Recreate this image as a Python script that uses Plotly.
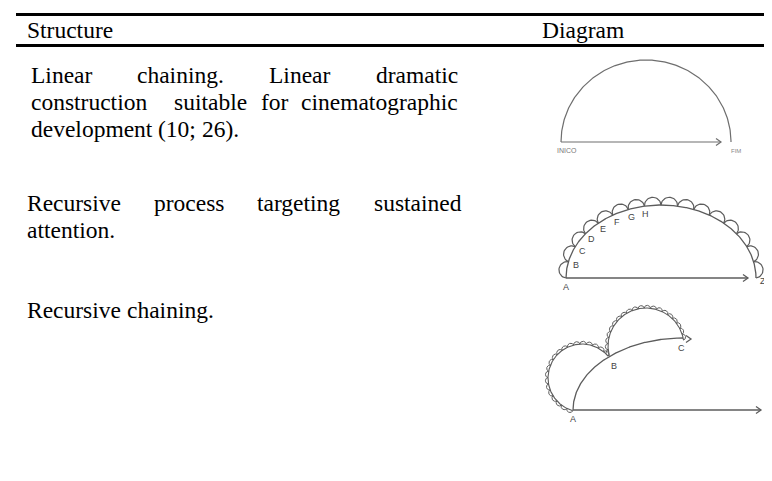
import re
import numpy as np
import plotly.graph_objects as go

# ---------------- data ----------------
headers = ["Structure", "Diagram"]
row1_lines = ["Linear chaining. Linear dramatic",
              "construction  suitable for cinematographic",
              "development (10; 26)."]
row2_lines = ["Recursive process targeting sustained",
              "attention."]
row3_lines = ["Recursive chaining."]
d1_labels = ["INICO", "FIM"]
d2_labels = ["A", "B", "C", "D", "E", "F", "G", "H"]
d2_end_label = "Z"
d3_labels = ["A", "B", "C", "Z"]
d2_loop_count = 16
d3_bead_counts = [20, 20]

# ---------------- helpers ----------------
W, H = 772, 481
FONT = "Liberation Serif"
FS = 23.5
TW = {' ': 250, 'a': 444, 'b': 500, 'c': 444, 'd': 500, 'e': 444, 'f': 333, 'g': 500,
      'h': 500, 'i': 278, 'j': 278, 'k': 500, 'l': 278, 'm': 778, 'n': 500, 'o': 500,
      'p': 500, 'q': 500, 'r': 333, 's': 389, 't': 278, 'u': 500, 'v': 500, 'w': 722,
      'x': 500, 'y': 500, 'z': 444, 'A': 722, 'B': 667, 'C': 667, 'D': 722, 'E': 611,
      'F': 556, 'G': 722, 'H': 722, 'I': 333, 'L': 611, 'R': 667, 'S': 556, '.': 250,
      ',': 250, ';': 278, '(': 333, ')': 333}
for d in "0123456789":
    TW[d] = 500


def tw(s, fs=FS):
    return sum(TW.get(c, 500) for c in s) / 1000.0 * fs


annotations = []


def word(x, baseline, text, fs=FS, color="black", family=FONT, anchor="left"):
    annotations.append(dict(x=x, y=baseline - 0.34 * fs, xref="x", yref="y", text=text,
                            showarrow=False, xanchor=anchor, yanchor="middle",
                            borderpad=0, font=dict(family=family, size=fs, color=color)))


def paragraph(lines, x0, x1, base0, lead):
    for i, line in enumerate(lines):
        b = base0 + i * lead
        parts = re.split(r"( +)", line)
        words = parts[0::2]
        gaps = [len(g) for g in parts[1::2]]
        last = i == len(lines) - 1
        if last or not gaps:
            unit = TW[' '] / 1000.0 * FS
        else:
            unit = (x1 - x0 - sum(tw(w) for w in words)) / sum(gaps)
        x = x0
        for j, w in enumerate(words):
            word(x, b, w)
            x += tw(w)
            if j < len(gaps):
                x += unit * gaps[j]


fig = go.Figure()
LC = "#5c5c5c"


def line(xs, ys, color=LC, width=1.3):
    fig.add_trace(go.Scatter(x=list(xs), y=list(ys), mode="lines",
                             line=dict(color=color, width=width),
                             hoverinfo="skip", showlegend=False))


def arrow_head(x, y, dx, dy, size=6, color=LC, width=1.3):
    n = np.hypot(dx, dy)
    ux, uy = dx / n, dy / n
    px, py = -uy, ux
    line([x - size * ux + 0.7 * size * px, x, x - size * ux - 0.7 * size * px],
         [y - size * uy + 0.7 * size * py, y, y - size * uy - 0.7 * size * py], color, width)


def ell(cx, cy, rx, ry, t0, t1, n=200):
    t = np.linspace(t0, t1, n)
    return cx + rx * np.cos(t), cy + ry * np.sin(t)


def resample(xs, ys, k):
    seg = np.hypot(np.diff(xs), np.diff(ys))
    cum = np.concatenate([[0], np.cumsum(seg)])
    s = np.linspace(0, cum[-1], k + 1)
    return np.interp(s, cum, xs), np.interp(s, cum, ys)


def loops(px, py, cx, cy, scale=1.0, color=LC, width=1.2):
    for i in range(len(px) - 1):
        x0, y0, x1, y1 = px[i], py[i], px[i + 1], py[i + 1]
        mx, my = (x0 + x1) / 2, (y0 + y1) / 2
        r = np.hypot(x1 - x0, y1 - y0) / 2
        ux, uy = (x0 - mx) / r, (y0 - my) / r
        nx, ny = -uy, ux
        if (mx - cx) * nx + (my - cy) * ny < 0:
            nx, ny = -nx, -ny
        s = np.linspace(0, np.pi, 24)
        line(mx + r * np.cos(s) * ux + scale * r * np.sin(s) * nx,
             my + r * np.cos(s) * uy + scale * r * np.sin(s) * ny, color, width)


# ---------------- table rules & header ----------------
shapes = [dict(type="line", xref="x", yref="y", x0=8, x1=772, y0=6.5, y1=6.5,
               line=dict(color="black", width=3)),
          dict(type="line", xref="x", yref="y", x0=8, x1=772, y0=37.5, y1=37.5,
               line=dict(color="black", width=3))]
word(18, 30, headers[0])
word(533, 30, headers[1])

# ---------------- text column ----------------
paragraph(row1_lines, 22, 449, 75, 27)
paragraph(row2_lines, 18, 452, 203, 27)
paragraph(row3_lines, 18, 452, 310, 27)

# ---------------- diagram 1 ----------------
c1 = "#6e6e6e"
x, y = ell(638, 134, 85, 82, np.pi, 2 * np.pi)
line(x, y, c1, 1.2)
line([553, 713], [134, 134], c1, 1.2)
arrow_head(713, 134, 1, 0, 5, c1, 1.2)
word(548, 145, d1_labels[0], fs=7, color="#777777", family="Liberation Sans", anchor="left")
word(722, 145, d1_labels[1], fs=6, color="#888888", family="Liberation Sans", anchor="left")

# ---------------- diagram 2 ----------------
cx2, cy2, rx2, ry2 = 653, 270, 95, 73
x, y = ell(cx2, cy2, rx2, ry2, np.pi, 2 * np.pi, 400)
line(x, y)
jx, jy = resample(x, y, d2_loop_count)
loops(jx, jy, cx2, cy2 + 40, 1.0)
line([558, 740], [270, 270])
arrow_head(740, 270, 1, 0, 5)
LAB = "#444444"
word(558, 282, d2_labels[0], fs=9, color=LAB, family="Liberation Sans", anchor="center")
for k, lab in enumerate(d2_labels[1:], start=1):
    vx, vy = cx2 - jx[k], cy2 + 20 - jy[k]
    n = np.hypot(vx, vy)
    word(jx[k] + 8 * vx / n, jy[k] + 8 * vy / n + 3, lab, fs=9, color=LAB,
         family="Liberation Sans", anchor="center")
word(755, 276, d2_end_label, fs=9, color=LAB, family="Liberation Sans", anchor="center")

# ---------------- diagram 3 ----------------
x, y = ell(675, 402, 110, 72, np.pi, 1.5 * np.pi)
line(x, y)
arrow_head(683, 331, 1, 0, 5)
line([565, 753], [402, 402])
arrow_head(753, 402, 1, 0, 5)
x, y = ell(574, 370, 34, 34, np.deg2rad(105.7), np.deg2rad(320), 300)
bx, by = resample(x, y, d3_bead_counts[0])
line(x, y, LC, 1.1)
loops(bx, by, 574, 370, 0.9, LC, 1.0)
x, y = ell(638, 338, 38, 38, np.deg2rad(165), np.deg2rad(351), 300)
bx, by = resample(x, y, d3_bead_counts[1])
line(x, y, LC, 1.1)
loops(bx, by, 638, 338, 0.9, LC, 1.0)
word(565, 414, d3_labels[0], fs=9, color=LAB, family="Liberation Sans", anchor="center")
word(606, 361, d3_labels[1], fs=9, color=LAB, family="Liberation Sans", anchor="center")
word(673, 343, d3_labels[2], fs=9, color=LAB, family="Liberation Sans", anchor="center")
word(763, 408, d3_labels[3], fs=9, color=LAB, family="Liberation Sans", anchor="center")

fig.update_layout(width=W, height=H, margin=dict(l=0, r=0, t=0, b=0),
                  paper_bgcolor="white", plot_bgcolor="white",
                  xaxis=dict(range=[0, W], visible=False, fixedrange=True),
                  yaxis=dict(range=[H, 0], visible=False, fixedrange=True),
                  shapes=shapes, annotations=annotations, showlegend=False)
fig.write_html("out.html")
